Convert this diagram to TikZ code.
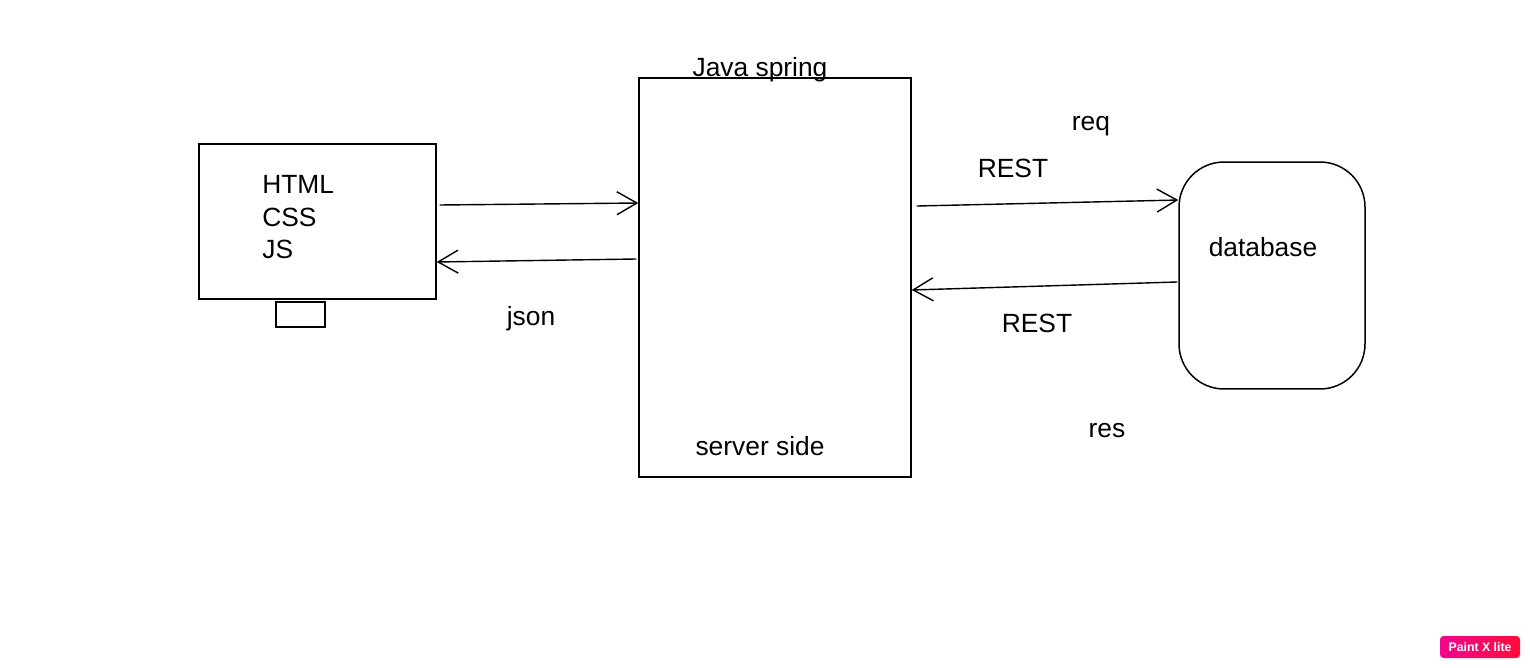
\documentclass[tikz,border=0pt]{standalone}
\usepackage{fontspec}
\setmainfont{Liberation Sans}
\usetikzlibrary{arrows.meta}
\definecolor{badgeL}{HTML}{F2078F}
\definecolor{badgeR}{HTML}{FF0B3B}

\begin{document}
\begin{tikzpicture}[x=0.02cm, y=-0.02cm,
    box/.style={rectangle, draw, line width=0.85pt, inner sep=0pt},
    txt/.style={font=\fontsize{15}{16.5}\selectfont, inner sep=0pt, anchor=base},
    link/.style={->, line width=0.8pt},
    >={Straight Barb[length=0.4cm, width=0.46cm, line width=0.8pt]}
]
    \useasboundingbox (0,0) rectangle (1530,668);

    % Client screen
    \node[box, minimum width=4.74cm, minimum height=3.1cm] (client) at (317.5,221.5) {};
    \node[box, minimum width=0.98cm, minimum height=0.5cm] (stand) at (300.5,314.5) {};
    \node[txt, align=left, anchor=base west, font=\fontsize{15}{18.7}\selectfont] (web) at (262,259) {HTML\\CSS\\JS};

    % Server
    \node[box, minimum width=5.44cm, minimum height=7.98cm] (server) at (775,277.5) {};
    \node[txt] (spring) at (760,77) {Java spring};
    \node[txt] (side) at (760,455) {server side};

    % Database
    \node[box, rounded corners=0.9cm, minimum width=3.72cm, minimum height=4.54cm] (db) at (1272,275.5) {};
    \node[txt] (dbname) at (1263,257) {database};

    % Connections
    \draw[link] ([xshift=0.06cm, yshift=0.33cm]client.east) -- ([yshift=1.49cm]server.west);
    \draw[link] ([xshift=-0.04cm, yshift=0.37cm]server.west) -- ([yshift=-0.81cm]client.east);
    \draw[link] ([xshift=0.1cm, yshift=1.43cm]server.east) -- ([yshift=1.51cm]db.west);
    \draw[link] ([xshift=-0.02cm, yshift=-0.13cm]db.west) -- ([yshift=-0.25cm]server.east);

    % Labels
    \node[txt] (json) at (531,326) {json};
    \node[txt] (rest1) at (1013,178) {REST};
    \node[txt] (rest2) at (1037,333) {REST};
    \node[txt] (req) at (1091,131) {req};
    \node[txt] (res) at (1107,438) {res};

    % Badge
    \node[rectangle, rounded corners=2pt, left color=badgeL, right color=badgeR,
          minimum width=1.6cm, minimum height=0.44cm, inner sep=0pt,
          text=white, font=\fontsize{7}{8}\selectfont\bfseries] (badge) at (1480,647) {Paint X lite};
\end{tikzpicture}
\end{document}
